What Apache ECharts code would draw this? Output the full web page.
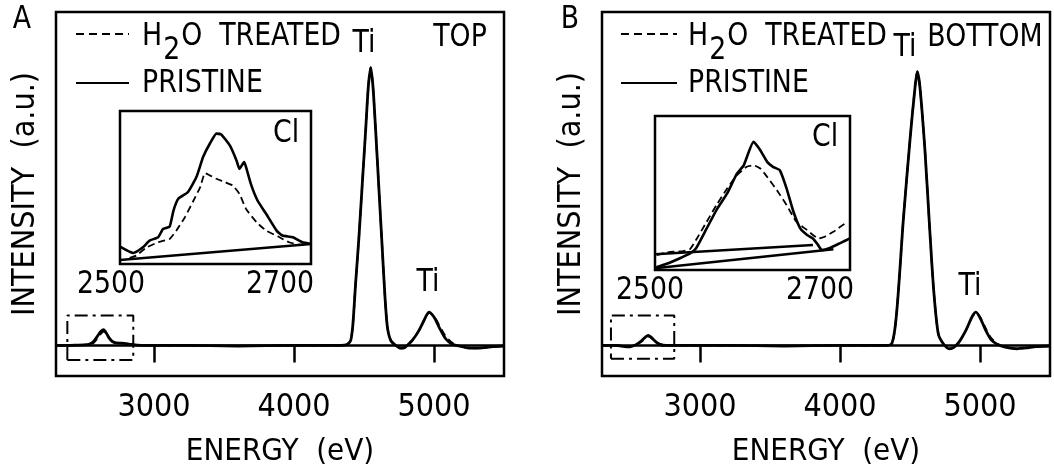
<!DOCTYPE html>
<html>
<head>
<meta charset="utf-8">
<script src="https://cdn.jsdelivr.net/npm/echarts@6/dist/echarts.min.js"></script>
<style>
html,body{margin:0;padding:0;background:#fff;}
#chart{width:1054px;height:476px;}
</style>
</head>
<body>
<div id="chart"></div>
<script>
// ---------------- DATA ----------------
const tickValues = [3000, 4000, 5000];
const insetTickLabels = ['2500', '2700'];

// Panel A (TOP) main spectrum
const energyA = [2300,2380,2450,2500,2540,2570,2600,2620,2640,2660,2680,2700,2730,2770,2820,2880,2950,3200,3600,4000,4300,4360,4381,4405,4421,4440,4464,4488,4512,4531,4548,4564,4583,4607,4631,4650,4667,4691,4726,4762,4790,4809,4845,4893,4940,4964,5000,5036,5083,5131,5179,5240,5300,5360,5420,5500];
const pristineA = [0,0,0.1,0.2,0.5,1.5,3.6,5.0,5.7,4.4,2.6,1.5,0.9,0.8,0.5,0.1,0,0,-0.2,0,0,0.1,0.4,1.8,7.8,22.3,39.1,58.4,77.6,93.2,100,93.2,77.6,56,34.3,17.4,6.6,1.8,0,-1.0,-0.8,0,1.8,5.4,10.2,12,10.2,6.6,2.4,0.4,-0.2,-0.9,-1.0,-0.8,-0.4,-0.2];
const treatedA = [0,0,0.1,0.2,0.3,1.0,2.8,4.2,5.0,4.2,2.8,1.7,1.0,0.8,0.5,0.1,0,0,-0.2,0,0,0.1,0.4,1.8,7.8,22.3,39.1,58.4,77.6,93.2,100,93.2,77.6,56,34.3,17.4,6.6,1.8,0,-1.0,-0.8,0,1.8,5.4,10.0,11.8,10.6,7.4,3.3,0.9,0,-0.9,-1.0,-0.8,-0.4,-0.2];
const clBoxEnergyA = [2381, 2852];
const clBoxIntensityA = [-5.2, 10.8];

// Panel A inset (Cl region)
const insetEnergySolidA = [2500,2514,2524,2531,2540,2545,2552,2556,2561,2571,2580,2587,2594,2601,2606,2615,2622,2625,2630,2632,2637,2644,2653,2664,2670,2681,2691,2700];
const insetSolidA = [11.4,7.2,10.9,15.3,17.5,22.9,24.5,34.9,42.6,46.9,56.8,69.9,78.6,85.2,84.7,77.5,67.7,62.2,66.6,63.3,52.4,41.5,32.8,21.8,18.6,17.5,14.2,13.1];
const insetEnergyDashedA = [2510,2517,2528,2540,2552,2559,2568,2577,2584,2589,2594,2601,2610,2618,2625,2632,2643,2653,2667,2677,2688,2700];
const insetDashedA = [4.0,5.5,10.9,14.2,16.4,21.8,30.6,41.5,50.2,59.4,57.9,55.7,53.5,51.3,45.9,36.0,27.3,21.8,17.5,14.2,12.7,13.1];
const insetBgEnergyA = [2500, 2700];
const insetBgA = [2.6, 13.1];

// Panel B (BOTTOM) main spectrum
const energyB = [2300,2400,2460,2500,2540,2580,2610,2630,2650,2680,2710,2760,2850,3200,3600,4000,4300,4369,4405,4452,4500,4536,4552,4571,4607,4643,4671,4702,4738,4781,4810,4850,4900,4945,4971,5005,5040,5080,5130,5180,5262,5330,5400,5500];
const pristineB = [0,0,-0.4,-0.5,0.2,1.6,3.0,3.6,3.0,1.5,0.4,0,0,0,-0.2,0,0,0.6,12,45,74,93,98.5,93,70,40,18.7,4.2,0.6,-1.2,-0.8,1.2,5.5,10.5,12,9.5,5.5,2.0,0.2,-0.6,-1.2,-0.9,-0.4,-0.2];
const treatedB = [0,0,-0.3,-0.3,0.3,1.3,2.6,3.2,2.8,1.6,0.6,0,0,0,-0.2,0,0,0.6,12,45,74,93,98.5,93,70,40,18.7,4.2,0.6,-1.2,-0.8,1.2,5.5,10.3,11.8,9.9,6.2,2.6,0.5,-0.6,-1.2,-0.9,-0.4,-0.2];
const clBoxEnergyB = [2364, 2816];
const clBoxIntensityB = [-4.8, 10.8];

// Panel B inset (Cl region)
const insetEnergySolidB = [2500,2512,2525,2536,2542,2553,2563,2574,2584,2591,2601,2608,2615,2621,2628,2635,2642,2649,2656,2662,2667,2671,2680,2690,2700];
const insetSolidB = [1.5,4.0,7.5,10.8,14.0,27.0,38.9,49.7,62.6,68.0,83.2,77.8,70.2,67.0,64.8,52.9,37.8,27.0,22.7,20.5,16.5,13.0,14.5,17.5,20.5];
const insetEnergyDashedB = [2502,2512,2519,2529,2536,2543,2553,2563,2574,2584,2594,2601,2608,2615,2625,2635,2645,2656,2662,2668,2674,2683,2690,2695];
const insetDashedB = [9.7,11.4,11.9,12.3,13.6,20.5,31.3,42.1,52.9,61.6,67.0,68.0,65.9,60.5,51.8,42.1,31.3,25.9,22.7,20.5,21.6,24.8,28.1,30.2];
const insetBgUpperEnergyB = [2500, 2662];
const insetBgUpperB = [10.2, 16.2];
const insetBgLowerEnergyB = [2500, 2683];
const insetBgLowerB = [1.1, 13.5];

// ---------------- CHART ----------------
const FONT = "'DejaVu Sans Condensed','Liberation Sans Narrow','DejaVu Sans',sans-serif";
const FS = 32;
const SX = 0.93; // horizontal squeeze for free text, to match the narrow lettering
const pairs = (xs, ys) => xs.map((x, i) => [x, ys[i]]);
const boxPath = (es, is) => [[es[0], is[0]], [es[1], is[0]], [es[1], is[1]], [es[0], is[1]], [es[0], is[0]]];

const measure = (() => {
  const c = document.createElement('canvas').getContext('2d');
  return (t, size) => { c.font = (size || FS) + 'px ' + FONT; return c.measureText(t).width; };
})();

const chart = echarts.init(document.getElementById('chart'), null, {renderer: 'canvas'});

function mainX(gi) {
  return {
    type: 'value', gridIndex: gi, min: 2300, max: 5500,
    axisLine: {show: false}, splitLine: {show: false},
    axisTick: {show: true, customValues: tickValues, length: 17, inside: false, lineStyle: {color: '#000', width: 2.5}},
    axisLabel: {show: true, customValues: tickValues, margin: 16, fontSize: FS, fontFamily: FONT, color: '#000',
      formatter: v => String(v)},
    name: 'ENERGY  (eV)', nameLocation: 'middle', nameGap: 60,
    nameTextStyle: {fontSize: 31, fontFamily: FONT, color: '#000'}
  };
}
function mainY(gi) {
  return {
    type: 'value', gridIndex: gi, min: -11, max: 120,
    axisLine: {show: false}, axisTick: {show: false}, axisLabel: {show: false}, splitLine: {show: false},
    name: 'INTENSITY  (a.u.)', nameLocation: 'middle', nameGap: 14,
    nameTextStyle: {fontSize: FS, fontFamily: FONT, color: '#000'}
  };
}
function insetX(gi) {
  return {type: 'value', gridIndex: gi, min: 2500, max: 2700, show: false, splitLine: {show: false}};
}
function insetY(gi) {
  return {type: 'value', gridIndex: gi, min: 0, max: 100, show: false, splitLine: {show: false}};
}

function mainSeries(ai, energies, pristine, treated, boxE, boxI) {
  return [
    {type: 'line', name: 'H2O TREATED', xAxisIndex: ai, yAxisIndex: ai, data: pairs(energies, treated),
     showSymbol: false, smooth: 0.25, z: 2, lineStyle: {color: '#000', width: 2, type: [7, 5]}},
    {type: 'line', name: 'PRISTINE', xAxisIndex: ai, yAxisIndex: ai, data: pairs(energies, pristine),
     showSymbol: false, smooth: 0.25, z: 3, lineStyle: {color: '#000', width: 2.8},
     markLine: {silent: true, symbol: 'none', label: {show: false}, animation: false,
       lineStyle: {color: '#000', width: 2.5, type: 'solid'}, data: [{yAxis: 0}]}},
    {type: 'line', name: 'Cl box', xAxisIndex: ai, yAxisIndex: ai, data: boxPath(boxE, boxI),
     showSymbol: false, z: 4, lineStyle: {color: '#000', width: 2, type: [13, 5, 3, 5]}}
  ];
}
function insetLine(ai, xs, ys, w, dash) {
  return {type: 'line', xAxisIndex: ai, yAxisIndex: ai, data: pairs(xs, ys), showSymbol: false,
    smooth: 0.15, clip: true, z: 6, lineStyle: {color: '#000', width: w, type: dash || 'solid'}};
}

function text(x, y, t, align, size) {
  return {type: 'text', x: x, y: y, z: 100, scaleX: SX,
    style: {text: t, fontSize: size || FS, fontFamily: FONT, fill: '#000', align: align || 'left', verticalAlign: 'middle'}};
}
function seg(x1, y1, x2, y2, dash) {
  return {type: 'line', z: 100, shape: {x1: x1, y1: y1, x2: x2, y2: y2},
    style: {stroke: '#000', lineWidth: 2.2, lineDash: dash || null}};
}
function legendBlock(x0, lineX1, lineX2) {
  const wH = measure('H') * SX;
  const w2 = measure('2') * SX;
  return [
    seg(lineX1, 34, lineX2, 34, [8, 5]),
    text(x0, 37, 'H'),
    text(x0 + wH + 1, 51, '2'),
    text(x0 + wH + w2 + 2, 37, 'O  TREATED'),
    seg(lineX1, 83, lineX2, 83),
    text(x0, 84, 'PRISTINE')
  ];
}

const graphic = [
  text(22, 20, 'A', 'center'),
  ...legendBlock(142, 76, 129),
  text(364, 44, 'Ti', 'center'),
  text(460, 38, 'TOP', 'center'),
  text(286, 134, 'Cl', 'center'),
  text(111, 285, insetTickLabels[0], 'center'),
  text(280, 285, insetTickLabels[1], 'center'),
  text(428, 283, 'Ti', 'center'),

  text(570, 20, 'B', 'center'),
  ...legendBlock(688, 621, 677),
  text(905, 48, 'Ti', 'center'),
  text(985, 38, 'BOTTOM', 'center'),
  text(825, 138, 'Cl', 'center'),
  text(650, 291, insetTickLabels[0], 'center'),
  text(820, 291, insetTickLabels[1], 'center'),
  text(970, 287, 'Ti', 'center')
];

const option = {
  animation: false,
  backgroundColor: '#fff',
  grid: [
    {left: 56, top: 12, width: 448, height: 364, show: true, borderColor: '#000', borderWidth: 2.5, backgroundColor: 'transparent'},
    {left: 602, top: 12, width: 448, height: 364, show: true, borderColor: '#000', borderWidth: 2.5, backgroundColor: 'transparent'},
    {left: 120, top: 111, width: 191, height: 153, show: true, borderColor: '#000', borderWidth: 2.5, backgroundColor: '#fff', z: 5},
    {left: 655, top: 116, width: 195, height: 154, show: true, borderColor: '#000', borderWidth: 2.5, backgroundColor: '#fff', z: 5}
  ],
  xAxis: [mainX(0), mainX(1), insetX(2), insetX(3)],
  yAxis: [mainY(0), mainY(1), insetY(2), insetY(3)],
  series: [
    ...mainSeries(0, energyA, pristineA, treatedA, clBoxEnergyA, clBoxIntensityA),
    ...mainSeries(1, energyB, pristineB, treatedB, clBoxEnergyB, clBoxIntensityB),
    insetLine(2, insetBgEnergyA, insetBgA, 2.5),
    insetLine(2, insetEnergyDashedA, insetDashedA, 1.8, [7, 4]),
    insetLine(2, insetEnergySolidA, insetSolidA, 2.6),
    insetLine(3, insetBgUpperEnergyB, insetBgUpperB, 2.5),
    insetLine(3, insetBgLowerEnergyB, insetBgLowerB, 2.5),
    insetLine(3, insetEnergyDashedB, insetDashedB, 1.8, [7, 4]),
    insetLine(3, insetEnergySolidB, insetSolidB, 2.6)
  ],
  graphic: graphic
};
chart.setOption(option);
</script>
</body>
</html>
